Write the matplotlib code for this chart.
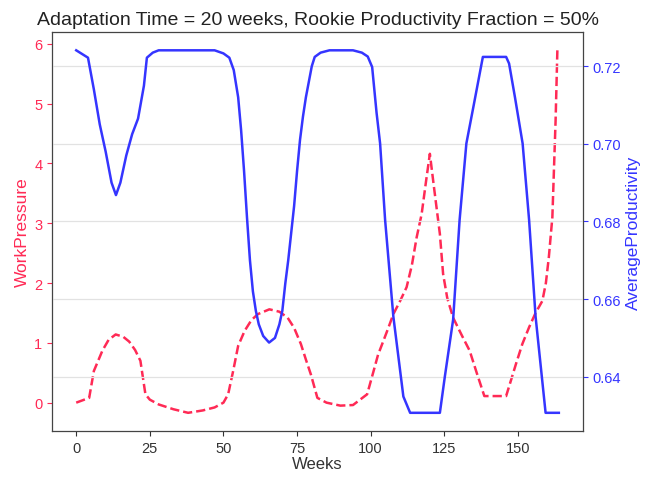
import matplotlib
matplotlib.use("Agg")
import matplotlib.pyplot as plt

plt.rcParams['font.family'] = ['Liberation Sans', 'DejaVu Sans']

# WorkPressure (left axis)
pressure_weeks = [0, 4.4, 6, 8.9, 11, 13.4, 16, 18, 20, 21.8, 23.5, 25, 28, 33, 38, 43, 47,
                  50, 51.6, 53.3, 55, 57.2, 59.5, 61.7, 65.6, 69, 71.8, 74, 76.3, 78, 79.7,
                  81.9, 85, 89.7, 94, 98.8, 101, 102.5, 104.3, 106, 107.7, 110, 112.2, 114,
                  115.6, 117.3, 118.8, 120.1, 121.5, 123.5, 124.6, 126, 128, 131, 133.6, 136,
                  138.6, 146, 147.5, 149.3, 151.5, 153.8, 156, 158.3, 159.5, 160.5, 161.7,
                  162.8, 163.4]
pressure = [0.0, 0.08, 0.53, 0.87, 1.05, 1.14, 1.10, 1.02, 0.88, 0.70, 0.14, 0.05, -0.03,
            -0.11, -0.17, -0.13, -0.08, 0.0, 0.14, 0.53, 0.95, 1.2, 1.38, 1.48, 1.56, 1.52,
            1.42, 1.25, 0.98, 0.72, 0.47, 0.08, 0.0, -0.05, -0.04, 0.14, 0.53, 0.80, 1.03,
            1.25, 1.48, 1.70, 1.93, 2.30, 2.76, 3.15, 3.7, 4.16, 3.6, 2.82, 2.15, 1.75, 1.42,
            1.12, 0.87, 0.50, 0.11, 0.11, 0.35, 0.64, 0.98, 1.26, 1.50, 1.70, 2.0, 2.43, 3.1,
            4.72, 5.89]

# AverageProductivity (right axis)
prod_weeks = [0, 4, 6, 8, 10, 12, 13.5, 15, 17, 19, 21, 23, 24, 26, 28, 47, 50, 52, 53.5,
              55, 56, 57, 58, 59, 60, 61, 62, 63.5, 65.5, 67.5, 69, 70, 71, 72, 73, 74, 75,
              76, 77, 78, 79, 80, 81, 83, 86, 94, 97, 99, 100.5, 102, 103.2, 104.9, 107.7,
              111.1, 113.4, 123.5, 125.2, 128, 130.2, 132.5, 135, 138.1, 146, 147, 149,
              151.6, 153.8, 156, 159.4, 163.9]
productivity = [0.7241, 0.7222, 0.714, 0.705, 0.698, 0.690, 0.6868, 0.690, 0.697, 0.7025,
                0.7065, 0.715, 0.7222, 0.7235, 0.7241, 0.7241, 0.7233, 0.7222, 0.719, 0.712,
                0.7035, 0.693, 0.681, 0.670, 0.662, 0.657, 0.6535, 0.6505, 0.6488, 0.650,
                0.6535, 0.657, 0.664, 0.670, 0.677, 0.684, 0.693, 0.701, 0.707, 0.712, 0.716,
                0.720, 0.7224, 0.7235, 0.7241, 0.7241, 0.7235, 0.7225, 0.7198, 0.708, 0.7001,
                0.6804, 0.6555, 0.6349, 0.6307, 0.6307, 0.6401, 0.6547, 0.6804, 0.7001,
                0.710, 0.7224, 0.7224, 0.7207, 0.712, 0.7001, 0.6804, 0.6555, 0.6307, 0.6307]

red = '#ff2a55'
blue = '#3535ff'

fig = plt.figure(figsize=(6.51, 4.81), dpi=100)
ax = fig.add_axes([0.080, 0.102, 0.8155, 0.829])
ax2 = ax.twinx()

ax2.grid(axis='y', color='#e2e2e2', linewidth=0.9)
ax.plot(pressure_weeks, pressure, color=red, linestyle='--', linewidth=1.8)
ax2.plot(prod_weeks, productivity, color=blue, linewidth=1.8)

ax.set_xticks([0, 25, 50, 75, 100, 125, 150])
ax.set_yticks(range(0, 7))
ax2.set_yticks([0.64, 0.66, 0.68, 0.70, 0.72])
ax2.set_yticklabels(['0.64', '0.66', '0.68', '0.70', '0.72'])

ax.set_xlabel('Weeks', fontsize=12, color='#333333', labelpad=1)
ax.set_ylabel('WorkPressure', fontsize=12.5, color=red, labelpad=3)
ax2.set_ylabel('AverageProductivity', fontsize=12.5, color=blue, labelpad=3)
ax.tick_params(axis='y', colors=red, labelsize=10.5)
ax.tick_params(axis='x', colors='#333333', labelsize=10.5)
ax2.tick_params(axis='y', colors=blue, labelsize=10.5)
for sp in ax2.spines.values():
    sp.set_color('#444444')

ax.set_title('Adaptation Time = 20 weeks, Rookie Productivity Fraction = 50%',
             fontsize=14, color='#222222')

fig.savefig('out.png', dpi=100)
